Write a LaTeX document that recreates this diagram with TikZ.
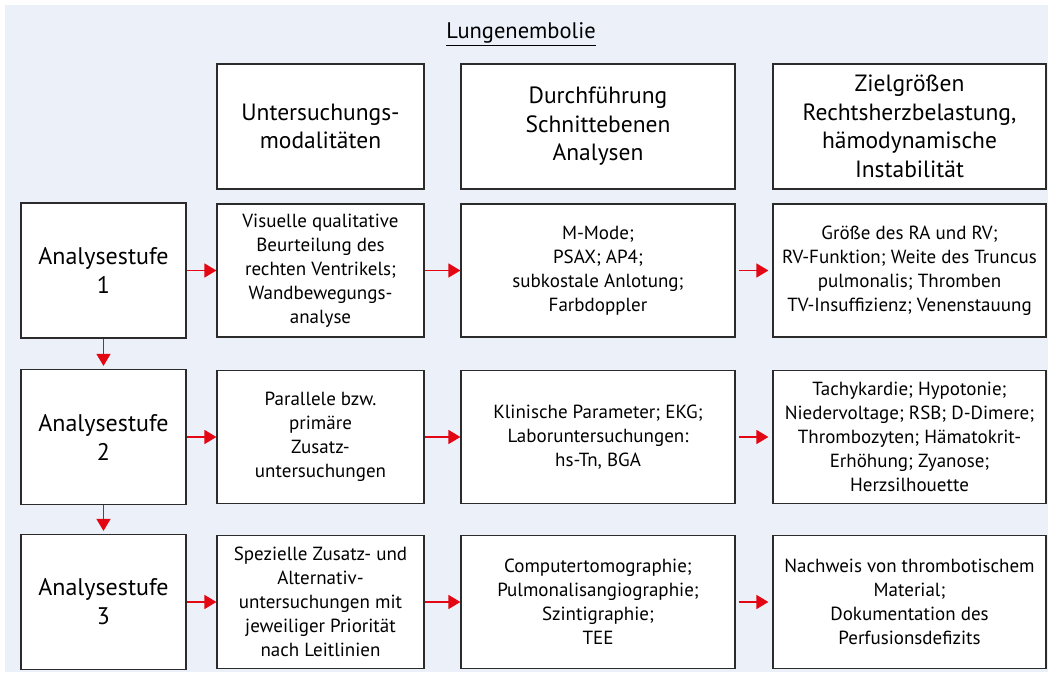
\documentclass[tikz,border=0pt]{standalone}
\usepackage{fontspec}
\setmainfont{PT Sans}
\usetikzlibrary{arrows.meta}
\definecolor{bg}{HTML}{EBF0F9}
\definecolor{arr}{HTML}{E30613}
\definecolor{bord}{HTML}{2B2B2B}
\begin{document}
\begin{tikzpicture}[x=1pt,y=-1pt,
  box/.style={draw=bord,line width=1.2pt,fill=white,inner sep=0pt,align=center,
    font=\fontsize{19}{24}\selectfont},
  stagebox/.style={box,minimum width=165pt,minimum height=135pt,
    font=\fontsize{24}{29}\selectfont},
  headbox/.style={box,minimum height=125pt,font=\fontsize{23.5}{28.5}\selectfont},
  ctwo/.style={minimum width=207pt},
  cthree/.style={minimum width=274pt},
  cfour/.style={minimum width=273pt},
  rowbox/.style={minimum height=133pt},
  redarrow/.style={draw=arr,line width=1.5pt,-{Triangle[length=12pt,width=14pt]}}
]
\useasboundingbox (0,0) rectangle (1048,672);
\fill[bg] (5,5) rectangle (1048,672);

\node[font=\fontsize{22.5}{26}\selectfont] (title) at (521,34) {\underline{Lungenembolie}};

% header row
\node[headbox,ctwo]   (h2) at (320.5,126.5) {Untersuchungs-\\modalitäten};
\node[headbox,cthree] (h3) at (598,126.5) {Durchführung\\Schnittebenen\\Analysen};
\node[headbox,cfour]  (h4) at (909.5,126.5) {Zielgrößen\\Rechtsherzbelastung,\\hämodynamische\\Instabilität};

% row 1
\node[stagebox] (s1) at (103.5,270.5) {Analysestufe\\1};
\node[box,ctwo,rowbox]   (a1) at (320.5,270.5) {Visuelle qualitative\\Beurteilung des\\rechten Ventrikels;\\Wandbewegungs-\\analyse};
\node[box,cthree,rowbox] (b1) at (598,270.5) {M-Mode;\\PSAX; AP4;\\subkostale Anlotung;\\Farbdoppler};
\node[box,cfour,rowbox]  (c1) at (909.5,270.5) {Größe des RA und RV;\\RV-Funktion; Weite des Truncus\\pulmonalis; Thromben\\TV-Insuffizienz; Venenstauung};

% row 2
\node[stagebox] (s2) at (103.5,437) {Analysestufe\\2};
\node[box,ctwo,rowbox]   (a2) at (320.5,437) {Parallele bzw.\\primäre\\Zusatz-\\untersuchungen};
\node[box,cthree,rowbox] (b2) at (598,437) {Klinische Parameter; EKG;\\Laboruntersuchungen:\\hs-Tn, BGA};
\node[box,cfour,rowbox]  (c2) at (909.5,437) {Tachykardie; Hypotonie;\\Niedervoltage; RSB; D-Dimere;\\Thrombozyten; Hämatokrit-\\Erhöhung; Zyanose;\\Herzsilhouette};

% row 3
\node[stagebox] (s3) at (103.5,602) {Analysestufe\\3};
\node[box,ctwo,rowbox]   (a3) at (320.5,602) {Spezielle Zusatz- und\\Alternativ-\\untersuchungen mit\\jeweiliger Priorität\\nach Leitlinien};
\node[box,cthree,rowbox] (b3) at (598,602) {Computertomographie;\\Pulmonalisangiographie;\\Szintigraphie;\\TEE};
\node[box,cfour,rowbox]  (c3) at (909.5,602) {Nachweis von thrombotischem\\Material;\\Dokumentation des\\Perfusionsdefizits};

% arrows
\foreach \r in {1,2,3}{
  \draw[redarrow] (s\r.east) -- (a\r.west);
  \draw[redarrow] (a\r.east) -- (b\r.west);
  \draw[redarrow,shorten <=3pt,shorten >=4pt] (b\r.east) -- (c\r.west);
}
\draw[redarrow,shorten >=3pt] (s1.south) -- (s2.north);
\draw[redarrow,shorten >=3pt] (s2.south) -- (s3.north);
\end{tikzpicture}
\end{document}
